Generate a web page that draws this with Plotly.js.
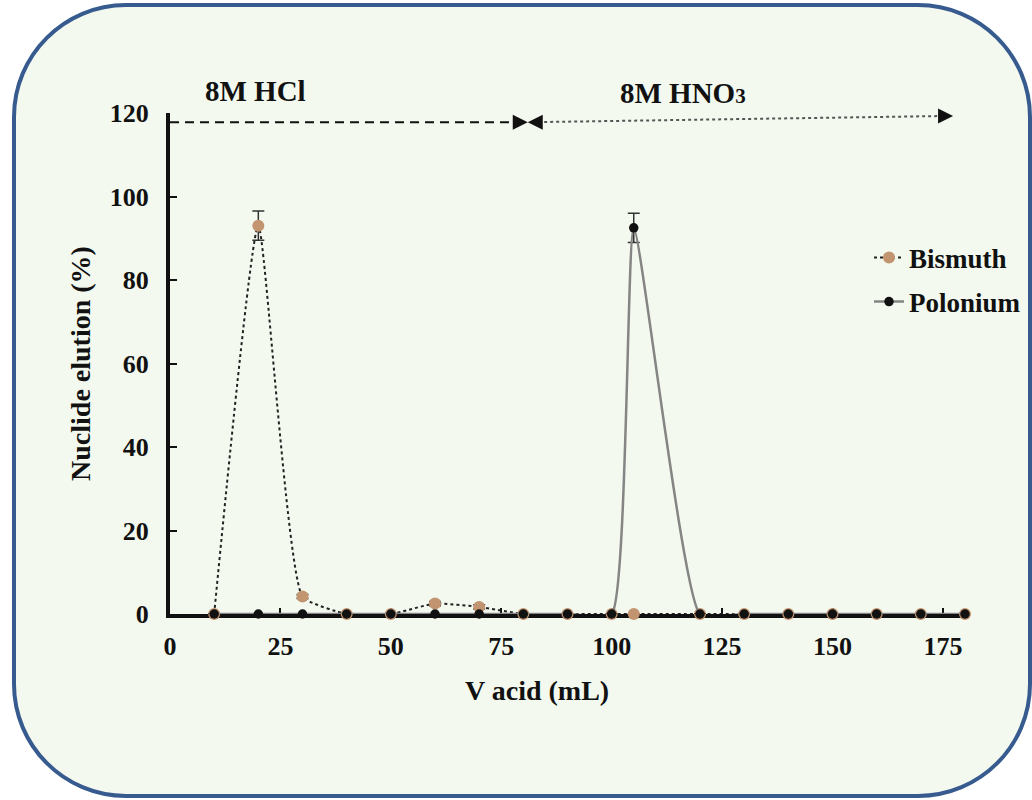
<!DOCTYPE html>
<html>
<head>
<meta charset="utf-8">
<script src="https://cdn.plot.ly/plotly-3.0.1.min.js"></script>
<style>html,body{margin:0;padding:0;background:#fff;overflow:hidden;}#chart{width:1032px;height:800px;}</style>
</head>
<body>
<div id="chart"></div>
<script>
// ---- data ----
const volume = [10, 20, 30, 40, 50, 60, 70, 80, 90, 100, 105, 120, 130, 140, 150, 160, 170, 180];
const bismuth = [0, 93, 4.2, 0, 0, 2.5, 1.7, 0, 0, 0, 0, 0, 0, 0, 0, 0, 0, 0];
const bismuthErr = [0, 3.5, 0.5, 0, 0, 0.5, 0.5, 0, 0, 0, 0, 0, 0, 0, 0, 0, 0, 0];
const polonium = [0, 0, 0, 0, 0, 0, 0, 0, 0, 0, 92.5, 0, 0, 0, 0, 0, 0, 0];
const poloniumErr = [0, 0, 0, 0, 0, 0, 0, 0, 0, 0, 3.5, 0, 0, 0, 0, 0, 0, 0];
const xTicks = [0, 25, 50, 75, 100, 125, 150, 175];
const yTicks = [0, 20, 40, 60, 80, 100, 120];
const xTitle = 'V acid (mL)';
const yTitle = 'Nuclide elution (%)';
const hclLabel = "8M HCl";
const hno3Label = '8M HNO<span style="font-size:21px">3</span>';
// acid phase boundaries (mL) for the arrows
const hclStart = 0, switchVol = 81, hno3End = 177.3;
const arrowY = [117.8, 117.8, 119.3];

// ---- layout geometry ----
const W = 1032, H = 800;
const M = {l: 170, r: 67, t: 113, b: 186, autoexpand: false};
const PW = W - M.l - M.r, PH = H - M.t - M.b;
const px2x = p => (p - M.l) / PW;
const px2y = p => (H - M.b - p) / PH;

function roundRectPath(x0, y0, x1, y1, r) {
  const k = 0.5523 * r;
  const P = (x, y) => px2x(x).toFixed(5) + ',' + px2y(y).toFixed(5);
  return 'M' + P(x0 + r, y0) +
    ' L' + P(x1 - r, y0) +
    ' C' + P(x1 - r + k, y0) + ' ' + P(x1, y0 + r - k) + ' ' + P(x1, y0 + r) +
    ' L' + P(x1, y1 - r) +
    ' C' + P(x1, y1 - r + k) + ' ' + P(x1 - r + k, y1) + ' ' + P(x1 - r, y1) +
    ' L' + P(x0 + r, y1) +
    ' C' + P(x0 + r - k, y1) + ' ' + P(x0, y1 - r + k) + ' ' + P(x0, y1 - r) +
    ' L' + P(x0, y0 + r) +
    ' C' + P(x0, y0 + r - k) + ' ' + P(x0 + r - k, y0) + ' ' + P(x0 + r, y0) + ' Z';
}

const FONT = "'Liberation Serif', 'Times New Roman', serif";

const traces = [
  {
    x: volume, y: bismuth, name: 'Bismuth', type: 'scatter', mode: 'lines+markers',
    line: {color: '#222', width: 2, dash: 'dot', shape: 'spline', smoothing: 0.45},
    marker: {color: '#c29470', size: 12},
    error_y: {type: 'data', array: bismuthErr, visible: true, color: '#333', thickness: 1.5, width: 6},
    cliponaxis: false, legend: 'legend'
  },
  {
    x: volume, y: polonium, name: 'Polonium', type: 'scatter', mode: 'lines+markers',
    line: {color: '#858585', width: 2.5, shape: 'spline', smoothing: 0.45},
    marker: {color: '#111', size: 9.5},
    error_y: {type: 'data', array: poloniumErr, visible: true, color: '#333', thickness: 1.5, width: 6},
    cliponaxis: false, legend: 'legend2'
  }
];

const arrowAnn = (x, y, ax) => ({
  x: x, y: y, xref: 'x', yref: 'y', ax: ax, ay: 0, text: '', showarrow: true,
  arrowhead: 2, arrowsize: 1.5, arrowwidth: 2, arrowcolor: '#111'
});

const layout = {
  width: W, height: H,
  margin: M,
  paper_bgcolor: '#ffffff',
  plot_bgcolor: 'rgba(0,0,0,0)',
  font: {family: FONT, size: 24, color: '#111', weight: 'bold'},
  showlegend: true,
  xaxis: {
    range: [0, 180], tickvals: xTicks, ticktext: xTicks.map(String),
    showgrid: false, zeroline: false, showline: true, linecolor: '#111', linewidth: 4,
    ticks: 'inside', ticklen: 6, tickwidth: 2, tickcolor: '#111', ticklabelstandoff: 6,
    tickfont: {family: FONT, size: 26, weight: 'bold', color: '#111'},
    layer: 'below traces', fixedrange: true
  },
  yaxis: {
    range: [0, 120], tickvals: yTicks,
    showgrid: false, zeroline: false, showline: true, linecolor: '#111', linewidth: 4,
    ticks: 'inside', ticklen: 7, tickwidth: 2, tickcolor: '#111', ticklabelstandoff: 12,
    tickfont: {family: FONT, size: 26, weight: 'bold', color: '#111'},
    title: {text: yTitle, font: {family: FONT, size: 28, weight: 'bold', color: '#111'}, standoff: 12},
    layer: 'below traces', fixedrange: true
  },
  legend: {
    x: px2x(869), y: px2y(258), xanchor: 'left', yanchor: 'middle',
    bgcolor: 'rgba(0,0,0,0)', font: {family: FONT, size: 27, weight: 'bold', color: '#111'}
  },
  legend2: {
    x: px2x(869), y: px2y(302), xanchor: 'left', yanchor: 'middle',
    bgcolor: 'rgba(0,0,0,0)', font: {family: FONT, size: 27, weight: 'bold', color: '#111'}
  },
  shapes: [
    {type: 'path', xref: 'paper', yref: 'paper', layer: 'below',
     path: roundRectPath(14, 5, 1030, 796, 112),
     fillcolor: '#f3f9ef', line: {color: '#375b8e', width: 4}},
    {type: 'line', xref: 'x', yref: 'y', x0: hclStart, x1: switchVol - 1, y0: arrowY[0], y1: arrowY[1],
     line: {color: '#111', width: 2, dash: '9px,6px'}},
    {type: 'line', xref: 'x', yref: 'y', x0: switchVol + 1, x1: hno3End - 1, y0: arrowY[1], y1: arrowY[2],
     line: {color: '#555', width: 2, dash: 'dot'}}
  ],
  annotations: [
    {text: xTitle, x: px2x(537), y: px2y(690), xref: 'paper', yref: 'paper', xanchor: 'center', yanchor: 'middle',
     showarrow: false, font: {family: FONT, size: 28, weight: 'bold', color: '#111'}},
    {text: hclLabel, x: px2x(255), y: px2y(91), xref: 'paper', yref: 'paper', xanchor: 'center', yanchor: 'middle',
     showarrow: false, font: {family: FONT, size: 29, weight: 'bold', color: '#111'}},
    {text: hno3Label, x: px2x(683), y: px2y(93), xref: 'paper', yref: 'paper', xanchor: 'center', yanchor: 'middle',
     showarrow: false, font: {family: FONT, size: 29, weight: 'bold', color: '#111'}},
    arrowAnn(switchVol, arrowY[1], -13),
    arrowAnn(switchVol, arrowY[1], 13),
    arrowAnn(hno3End, arrowY[2], -14)
  ]
};

Plotly.newPlot('chart', traces, layout, {displayModeBar: false, staticPlot: true});
</script>
</body>
</html>
